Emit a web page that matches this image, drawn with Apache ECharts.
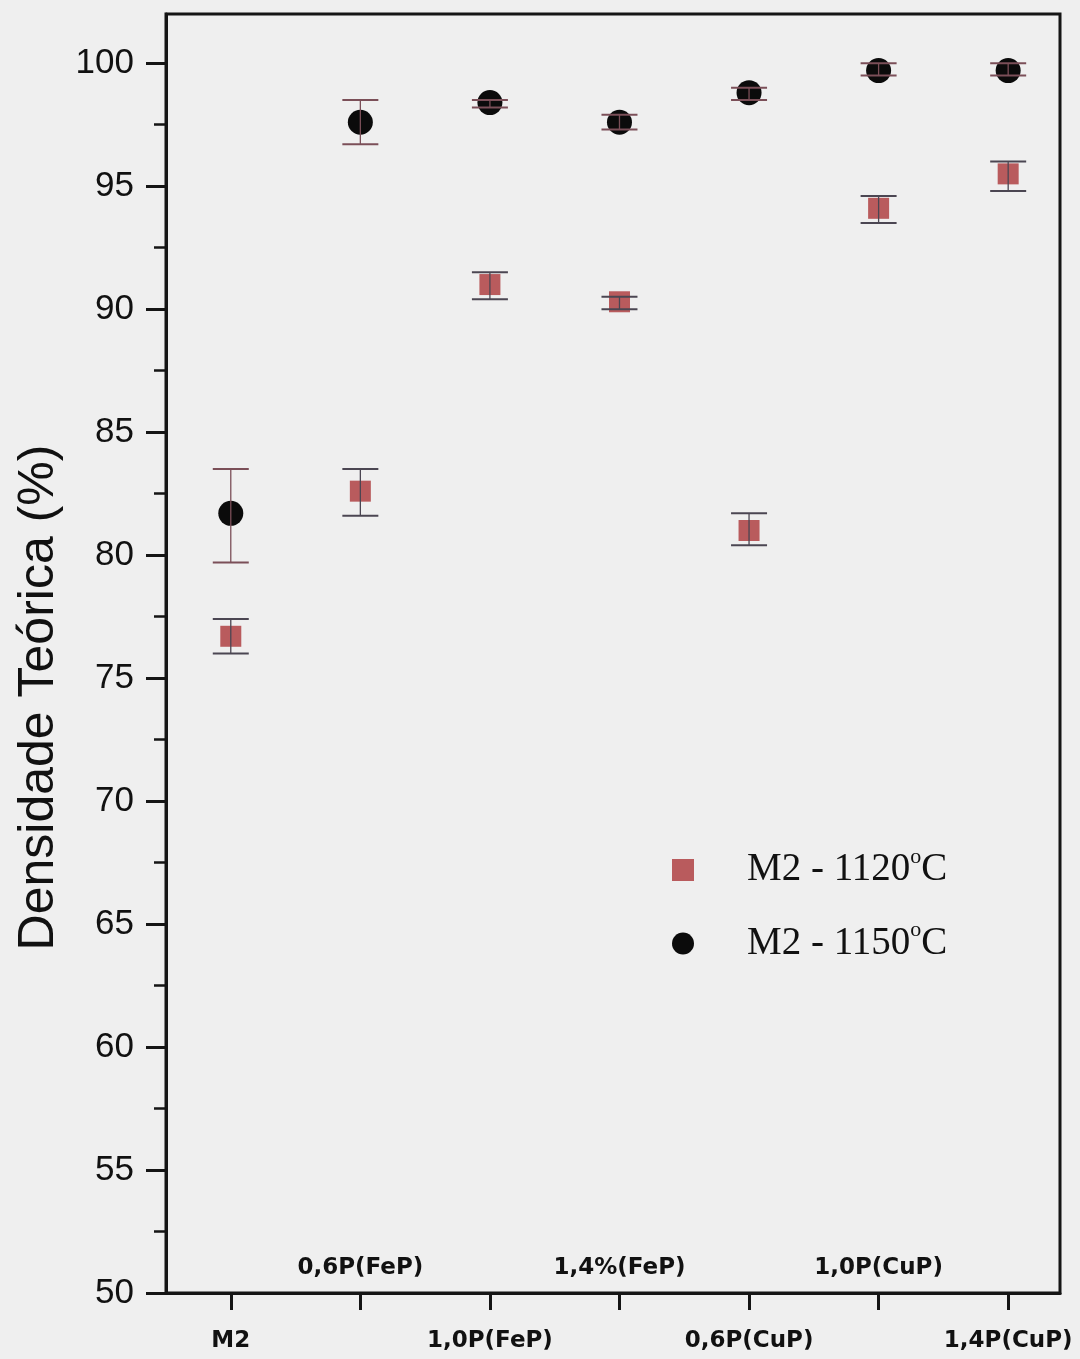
<!DOCTYPE html>
<html>
<head>
<meta charset="utf-8">
<script src="https://cdn.jsdelivr.net/npm/echarts@6/dist/echarts.min.js"></script>
<style>
html,body{margin:0;padding:0;background:#efefef;}
#chart{width:1080px;height:1359px;}
</style>
</head>
<body>
<div id="chart"></div>
<script>
// ---- data ----
const categories = ['M2', '0,6P(FeP)', '1,0P(FeP)', '1,4%(FeP)', '0,6P(CuP)', '1,0P(CuP)', '1,4P(CuP)'];
const d1120   = [76.7, 82.6, 91.0, 90.3, 81.0, 94.1, 95.5];
const e1120Lo = [76.0, 81.6, 90.4, 90.0, 80.4, 93.5, 94.8];
const e1120Hi = [77.4, 83.5, 91.5, 90.5, 81.7, 94.6, 96.0];
const d1150   = [81.7, 97.6, 98.4, 97.6, 98.8, 99.7, 99.7];
const e1150Lo = [79.7, 96.7, 98.2, 97.3, 98.5, 99.5, 99.5];
const e1150Hi = [83.5, 98.5, 98.5, 97.9, 99.0, 100.0, 100.0];
const yMajorTicks = [50, 55, 60, 65, 70, 75, 80, 85, 90, 95, 100];
const yMinorTicks = [52.5, 57.5, 62.5, 67.5, 72.5, 77.5, 82.5, 87.5, 92.5, 97.5];
const seriesNames = ['M2 - 1120', 'M2 - 1150'];

const idx = categories.map((c, i) => i);
const xBelow = idx.filter(i => i % 2 === 0);
const xAbove = idx.filter(i => i % 2 === 1);

function errRender(color) {
  return function (params, api) {
    const x = api.value(0), lo = api.value(1), hi = api.value(2);
    const a = api.coord([x, lo]), b = api.coord([x, hi]);
    const hw = 18;
    return {
      type: 'group',
      children: [
        { type: 'line', shape: { x1: a[0], y1: a[1], x2: b[0], y2: b[1] }, style: { stroke: color, lineWidth: 1.3 } },
        { type: 'line', shape: { x1: a[0] - hw, y1: a[1], x2: a[0] + hw, y2: a[1] }, style: { stroke: color, lineWidth: 2 } },
        { type: 'line', shape: { x1: b[0] - hw, y1: b[1], x2: b[0] + hw, y2: b[1] }, style: { stroke: color, lineWidth: 2 } }
      ]
    };
  };
}

const chart = echarts.init(document.getElementById('chart'), null, { renderer: 'canvas' });
const option = {
  backgroundColor: '#efefef',
  animation: false,
  grid: { left: 166, right: 20, top: 14, bottom: 66, show: true, borderColor: '#151515', borderWidth: 3, backgroundColor: 'transparent' },
  legend: {
    orient: 'vertical',
    left: 667, top: 841,
    itemWidth: 22, itemHeight: 22, itemGap: 30,
    data: seriesNames,
    formatter: function (name) { return '{pad|}{t|' + name + '}{s|o}{t|C}'; },
    textStyle: {
      rich: {
        pad: { width: 48 },
        t: { fontFamily: 'Liberation Serif', fontSize: 39, color: '#111', lineHeight: 40 },
        s: { fontFamily: 'Liberation Serif', fontSize: 22, color: '#111', padding: [0, 0, 26, 0] }
      }
    }
  },
  xAxis: [
    {
      type: 'value', min: -0.5, max: 6.4, position: 'bottom',
      splitLine: { show: false },
      axisLine: { show: true, onZero: false, lineStyle: { color: '#151515', width: 3 } },
      axisTick: { show: true, customValues: idx, length: 17, lineStyle: { color: '#151515', width: 3 } },
      axisLabel: {
        customValues: xBelow, margin: 37,
        formatter: v => categories[Math.round(v)],
        fontFamily: 'DejaVu Sans', fontWeight: 'bold', fontSize: 23, color: '#111'
      }
    },
    {
      type: 'value', min: -0.5, max: 6.4, position: 'bottom',
      splitLine: { show: false },
      axisLine: { show: false, onZero: false },
      axisTick: { show: false },
      axisLabel: {
        inside: true, customValues: xAbove, margin: 13,
        formatter: v => categories[Math.round(v)],
        fontFamily: 'DejaVu Sans', fontWeight: 'bold', fontSize: 23, color: '#111'
      }
    }
  ],
  yAxis: [
    {
      type: 'value', min: 50, max: 102, position: 'left',
      name: 'Densidade Teórica (%)', nameLocation: 'middle', nameGap: 100,
      nameTextStyle: { fontFamily: 'Liberation Sans', fontSize: 50, color: '#111', padding: [0, 88, 0, 0] },
      splitLine: { show: false },
      axisLine: { show: true, onZero: false, lineStyle: { color: '#151515', width: 3 } },
      axisTick: { show: true, customValues: yMajorTicks, length: 20, lineStyle: { color: '#151515', width: 3 } },
      axisLabel: { customValues: yMajorTicks, margin: 32, fontFamily: 'Liberation Sans', fontSize: 35, color: '#111' }
    },
    {
      type: 'value', min: 50, max: 102, position: 'left',
      splitLine: { show: false },
      axisLine: { show: false, onZero: false },
      axisTick: { show: true, customValues: yMinorTicks, length: 12, lineStyle: { color: '#151515', width: 2.5 } },
      axisLabel: { show: false }
    }
  ],
  series: [
    {
      name: seriesNames[0], type: 'scatter', symbol: 'rect', symbolSize: 21,
      itemStyle: { color: '#b95b5d', opacity: 1 }, z: 3,
      data: d1120.map((v, i) => [i, v])
    },
    {
      name: seriesNames[1], type: 'scatter', symbol: 'circle', symbolSize: 25,
      itemStyle: { color: '#0b0b0b', opacity: 1 }, z: 3,
      data: d1150.map((v, i) => [i, v])
    },
    {
      type: 'custom', z: 4, renderItem: errRender('#4b4652'),
      encode: { x: 0, y: [1, 2] },
      data: idx.map(i => [i, e1120Lo[i], e1120Hi[i]])
    },
    {
      type: 'custom', z: 4, renderItem: errRender('#7b4f58'),
      encode: { x: 0, y: [1, 2] },
      data: idx.map(i => [i, e1150Lo[i], e1150Hi[i]])
    }
  ]
};
chart.setOption(option);
</script>
</body>
</html>
